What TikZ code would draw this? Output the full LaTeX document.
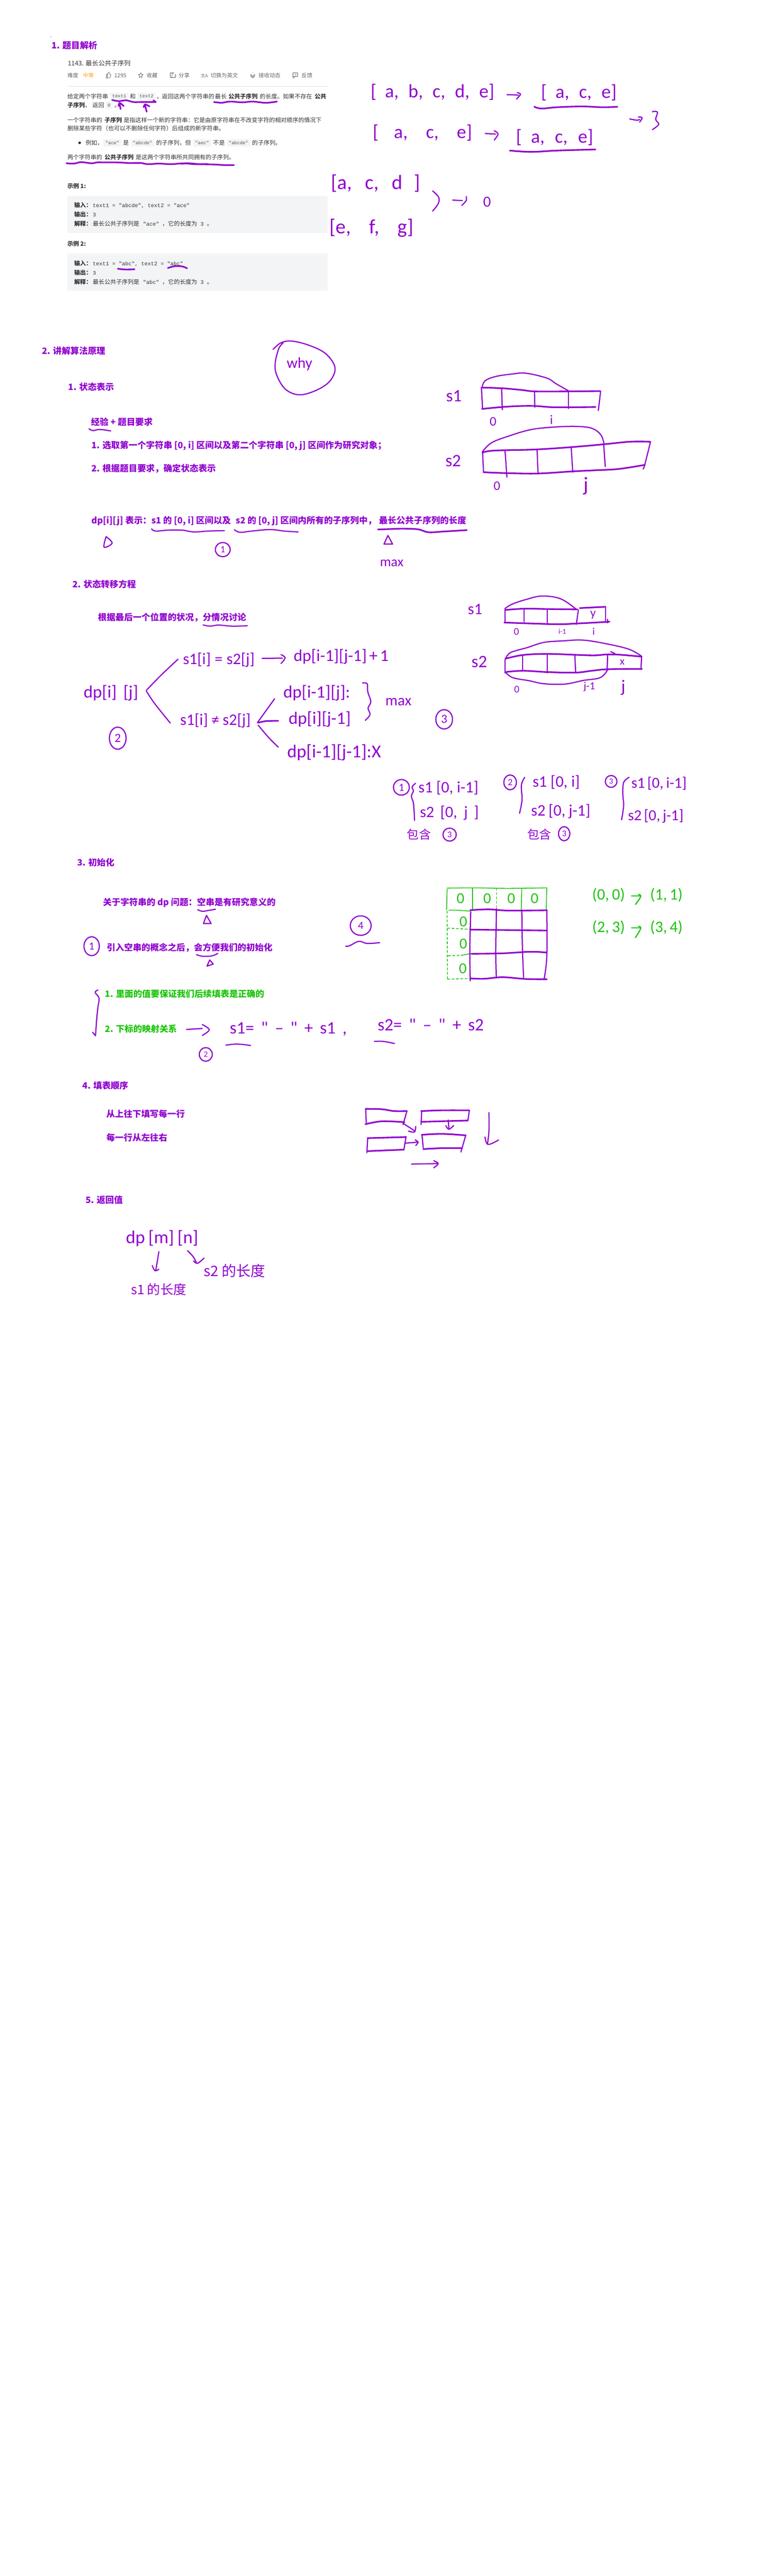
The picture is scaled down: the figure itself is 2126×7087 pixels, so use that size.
\documentclass[tikz,border=0pt]{standalone}
\usepackage{fontspec}
\setmainfont{Noto Sans CJK SC}
\setmonofont{Liberation Mono}
\newfontfamily\hand{Carlito}
\definecolor{pur}{HTML}{9000CF}
\definecolor{grn}{HTML}{1EC40C}
\definecolor{bodyc}{HTML}{333333}
\definecolor{grayc}{HTML}{666666}
\definecolor{chipc}{HTML}{F3F4F5}
\definecolor{monoc}{HTML}{555555}
\definecolor{ornge}{HTML}{FFA116}
\colorlet{ink}{pur}
\tikzset{
 hd/.style={anchor=west,inner sep=0pt,font=\bfseries\fontsize{12}{14}\selectfont,text=pur,text height=10.5pt,text depth=1.5pt},
 hdg/.style={hd,text=grn},
 ttl/.style={anchor=west,inner sep=0pt,font=\fontsize{8.8}{11}\selectfont,text=bodyc,text height=7.7pt,text depth=1.1pt},
 bd/.style={anchor=west,inner sep=0pt,font=\fontsize{8}{10}\selectfont,text=bodyc,text height=7pt,text depth=1pt},
 bb/.style={bd,font=\bfseries\fontsize{8}{10}\selectfont},
 tb/.style={anchor=west,inner sep=0pt,font=\fontsize{7.5}{10}\selectfont,text=grayc,text height=6.6pt,text depth=.9pt},
 mn/.style={anchor=west,inner sep=0pt,font=\ttfamily\fontsize{7.4}{10}\selectfont,text=bodyc,text height=7pt,text depth=1pt},
 chip/.style={inner sep=0pt,fill=chipc,rounded corners=1.5pt,minimum height=10.5pt,font=\ttfamily\fontsize{6.4}{8}\selectfont,text=monoc},
 pk/.style={draw=ink,line width=2.2pt,line cap=round,line join=round},
 pm/.style={draw=ink,line width=1.6pt,line cap=round,line join=round},
 pf/.style={draw=ink,line width=1.1pt,line cap=round,line join=round},
 ic/.style={draw=grayc,line width=.55pt,line join=round,line cap=round},
 hwa/.style={anchor=base west,inner sep=0pt,text=ink},
 hwb/.style={anchor=center,inner sep=0pt,text=ink},
}
\newcommand\strk[1]{\draw[pk] plot[smooth,tension=.6] coordinates {#1};}
\newcommand\med[1]{\draw[pm] plot[smooth,tension=.6] coordinates {#1};}
\newcommand\thn[1]{\draw[pf] plot[smooth,tension=.6] coordinates {#1};}
\newcommand\hwt[5]{\node[hwa,font=\hand\fontsize{#3}{#3}\selectfont] (#1) at (#2) {\hbox to \dimexpr#4pt/2\relax{#5}};}
\newcommand\hwc[4]{\node[hwb,font=\hand\fontsize{#3}{#3}\selectfont] (#1) at (#2) {#4};}
\newcommand\hcj[4]{\node[hwa,font=\fontsize{#3}{#3}\selectfont] (#1) at (#2) {#4};}
\newcommand\mk[6]{\draw[pm] (#2) ellipse [x radius=#3,y radius=#4]; \hwc{#1}{#2}{#5}{#6}}
\begin{document}
\begin{tikzpicture}[x=0.5pt,y=-0.5pt]
\useasboundingbox (0,0) rectangle (2126,7087);
\fill[white] (0,0) rectangle (2126,7087);
% ------- typed text, top block
\fill[pur!35] (140,101) circle [radius=2];
\node[hd] (sec1) at (141,125) {1. 题目解析};
\node[ttl] (title) at (186,174) {1143. 最长公共子序列};
\node[tb] (nd) at (185,207) {难度};
\node[tb,text=ornge] (zd) at (228,207) {中等};
\node[tb] (likes) at (314,207) {1295};
\node[tb] (sc) at (403,207) {收藏};
\node[tb] (fx) at (491,207) {分享};
\node[tb] (qh) at (579,207) {切换为英文};
\node[tb] (js) at (711,207) {接收动态};
\node[tb] (fk) at (829,207) {反馈};
\draw[ic] (292,204) rectangle (295,214);
\draw[ic] (295,204)--(299,199)--(301,200)--(300.5,204)--(305,204)--(303,214)--(295,214);
\draw[ic] (387,200)--(389,204.5)--(393.5,205)--(390,208.5)--(391,213.5)--(387,211)--(383,213.5)--(384,208.5)--(380.5,205)--(385,204.5)--cycle;
\draw[ic] (478,200)--(468,200)--(468,213)--(482,213)--(482,204);
\draw[ic] (473,213)--(473,204)--(478,200);
\node[inner sep=0pt,font=\fontsize{6}{6}\selectfont,text=grayc] (tr) at (562,208) {文A};
\draw[ic] (695,199)--(695,200) (690,211)--(690,204) arc (180:0:5)--(700,211)--cycle (692.5,213.5)--(697.5,213.5);
\draw[ic] (806,200) rectangle (819,211);
\draw[ic] (806,211)--(806,215)--(811,211) (812.5,203)--(812.5,206.5) (812.5,208)--(812.5,209);
\draw[draw=black!12,line width=.5pt] (185,237)--(901,237);

\node[bd] (p1a) at (185,265) {给定两个字符串};
\node[chip,minimum width=25pt] (c1) at (328,265) {text1};
\node[bd] (p1b) at (357,265) {和};
\node[chip,minimum width=25pt] (c2) at (403,265) {text2};
\node[bd] (p1c) at (430,265) {，};
\node[bd] (p1d) at (445,265) {返回这两个字符串的};
\node[bd] (p1e) at (591,265) {最长};
\node[bb] (p1f) at (628,265) {公共子序列};
\node[bd] (p1g) at (714,265) {的长度。};
\node[bd] (p1h) at (778,265) {如果不存在};
\node[bb] (p1i) at (865,265) {公共};
\node[bb] (p2a) at (185,290) {子序列};
\node[bd] (p2b) at (233,290) {，};
\node[bd] (p2c) at (254,290) {返回};
\node[chip,minimum width=9pt] (c0) at (300,290) {0};
\node[bd] (p2d) at (314,290) {。};
\node[bd] (p3a) at (185,330) {一个字符串的};
\node[bb] (p3b) at (287,330) {子序列};
\node[bd] (p3c) at (340,330) {是指这样一个新的字符串：它是由原字符串在不改变字符的相对顺序的情况下};
\node[bd] (p4) at (185,353) {删除某些字符（也可以不删除任何字符）后组成的新字符串。};
\fill[black!85] (219,393) circle [radius=3.5];
\node[bd] (p5a) at (235,393) {例如，};
\node[chip,minimum width=25pt] (c3) at (309,393) {"ace"};
\node[bd] (p5b) at (338,393) {是};
\node[chip,minimum width=32pt] (c4) at (392,393) {"abcde"};
\node[bd] (p5c) at (429,393) {的子序列，但};
\node[chip,minimum width=25pt] (c5) at (556,393) {"aec"};
\node[bd] (p5d) at (586,393) {不是};
\node[chip,minimum width=32pt] (c6) at (656,393) {"abcde"};
\node[bd] (p5e) at (693,393) {的子序列。};
\node[bd] (p6a) at (185,433) {两个字符串的};
\node[bb] (p6b) at (287,433) {公共子序列};
\node[bd] (p6c) at (373,433) {是这两个字符串所共同拥有的子序列。};

\node[bb] (ex1) at (185,512) {示例 1:};
\fill[chipc,rounded corners=1.5pt] (185,539) rectangle (901,641);
\node[bb] (e1a) at (204,565) {输入：};
\node[mn] (e1b) at (255,565) {text1 = "abcde", text2 = "ace"};
\node[bb] (e1c) at (204,590) {输出：};
\node[mn] (e1d) at (255,590) {3};
\node[bb] (e1e) at (204,616) {解释：};
\node[bd] (e1f) at (255,616) {最长公共子序列是};
\node[mn] (e1g) at (393,616) {"ace"};
\node[bd] (e1h) at (446,616) {，它的长度为};
\node[mn] (e1i) at (551,616) {3};
\node[bd] (e1j) at (569,616) {。};
\node[bb] (ex2) at (185,671) {示例 2:};
\fill[chipc,rounded corners=1.5pt] (185,697.5) rectangle (901,799.5);
\node[bb] (e2a) at (204,724) {输入：};
\node[mn] (e2b) at (255,724) {text1 = "abc", text2 = "abc"};
\node[bb] (e2c) at (204,749.5) {输出：};
\node[mn] (e2d) at (255,749.5) {3};
\node[bb] (e2e) at (204,775) {解释：};
\node[bd] (e2f) at (255,775) {最长公共子序列是};
\node[mn] (e2g) at (393,775) {"abc"};
\node[bd] (e2h) at (446,775) {，它的长度为};
\node[mn] (e2i) at (551,775) {3};
\node[bd] (e2j) at (569,775) {。};

% ------- purple headings
\node[hd] (sec2) at (115,966) {2. 讲解算法原理};
\node[hd] (s21) at (187,1065) {1. 状态表示};
\node[hd] (s21a) at (250,1161) {经验 + 题目要求};
\node[hd] (s21b) at (251,1225) {1. 选取第一个字符串 [0, i] 区间以及第二个字符串 [0, j] 区间作为研究对象；};
\node[hd] (s21c) at (251,1289) {2. 根据题目要求，确定状态表示};
\node[hd] (s21d) at (251,1432) {dp[i][j] 表示：};
\node[hd] (s21e) at (416,1432) {s1 的 [0, i] 区间以及};
\node[hd] (s21f) at (648,1432) {s2 的 [0, j] 区间内所有的子序列中，};
\node[hd] (s21g) at (1042,1432) {最长公共子序列的长度};
\node[hd] (s22) at (199,1608) {2. 状态转移方程};
\node[hd] (s22a) at (269,1698) {根据最后一个位置的状况，分情况讨论};
\node[hd] (s23) at (212,2373) {3. 初始化};
\node[hd] (s23a) at (283,2482) {关于字符串的 dp 问题：空串是有研究意义的};
\node[hd] (s23b) at (293,2607) {引入空串的概念之后，会方便我们的初始化};
\node[hdg] (s23c) at (288,2735) {1. 里面的值要保证我们后续填表是正确的};
\node[hdg] (s23d) at (288,2831) {2. 下标的映射关系};
\node[hd] (s24) at (226,2987) {4. 填表顺序};
\node[hd] (s24a) at (292,3065) {从上往下填写每一行};
\node[hd] (s24b) at (292,3130) {每一行从左往右};
\node[hd] (s25) at (235,3302) {5. 返回值};

% ------- ink on the statement
\begin{scope}[shift={(120,250)},x=.1667pt,y=-.1667pt]
\strk{(565,75) (620,85) (680,78) (740,92) (800,92) (860,92) (925,92)}
\strk{(925,92) (905,78)}
\strk{(635,150) (625,100)} \strk{(618,125) (628,100) (660,125)}
\strk{(850,172) (835,112)} \strk{(825,135) (838,112) (873,128)}
\strk{(188,597) (250,600) (310,588) (395,598) (440,590) (500,590) (600,590) (700,595) (800,595) (860,605) (950,600) (1050,605) (1150,598) (1250,605) (1350,603)}
\end{scope}
\begin{scope}[shift={(500,250)},x=.1667pt,y=-.1667pt]
\strk{(0,603) (50,597) (150,605) (250,607) (350,612) (430,613)}
\strk{(265,92) (330,98) (400,88) (500,95) (580,88) (680,98) (740,95) (785,88)}
\end{scope}
\begin{scope}[shift={(80,60)},x=.287pt,y=-.255pt]
\strk{(425,1332) (460,1336) (505,1335)}
\strk{(665,1328) (700,1318) (735,1320) (757,1330)}
\end{scope}

% ------- arrays of letters, top right
\begin{scope}[shift={(900,150)},x=.3507pt,y=-.2232pt]
\hwt{ha}{170,265}{26}{340}{[ a, b, c, d, e]}
\med{(705,247) (750,250)} \med{(745,235) (758,245) (742,275)}
\hwt{hb}{838,270}{26}{208}{[ a, c, e]}
\strk{(812,322) (840,333) (900,325) (1000,320) (1080,325) (1138,322)}
\hwt{hc}{178,515}{26}{273}{[ a, c, e]}
\med{(620,487) (660,490)} \med{(655,470) (670,490) (655,527)}
\hwt{hd1}{740,545}{26}{212}{[ a, c, e]}
\strk{(716,592) (800,600) (900,592) (1052,585)}
\med{(1186,397) (1215,405) (1225,400)} \med{(1220,385) (1235,390) (1225,417)}
\med{(1275,352) (1295,355) (1288,400) (1300,430) (1275,463)}
\hwt{he}{15,830}{28}{245}{[a, c, d ]}
\med{(413,840) (437,880) (435,920) (413,965)}
\med{(492,897) (530,900)} \med{(545,875) (545,900) (528,930)}
\hwc{hf}{627,910}{21}{0}
\hwt{hg}{8,1105}{28}{231}{[e, f, g]}
\end{scope}

% ------- why / underlines in section 2.1
\begin{scope}[shift={(80,900)},x=.319pt,y=-.255pt]
\med{(1052,120) (1085,85) (1130,75) (1200,95) (1270,135) (1310,190) (1318,240) (1290,300) (1230,345) (1165,365) (1110,340) (1075,280) (1060,210) (1075,120) (1095,85)}
\hwt{why}{1110,220}{21}{65}{why}
\med{(258,548) (275,558) (305,552) (352,560)}
\med{(528,1088) (545,1100) (600,1095) (660,1095) (710,1105) (770,1100) (842,1098)}
\med{(885,1093) (910,1107) (960,1100) (1040,1092) (1100,1100) (1160,1105)}
\med{(332,1130) (358,1165) (323,1187) (332,1130)}
\mk{m1}{835,1200}{32}{38}{13}{1}
\end{scope}
\begin{scope}[shift={(1000,1000)},x=.319pt,y=-.2232pt]
\strk{(62,1023) (120,1020) (170,1018) (235,1022) (280,1040) (350,1035) (445,1027)}
\draw[pm] (105,1060)--(125,1113)--(88,1113)--cycle;
\hwt{mx1}{70,1250}{19}{74}{max}
% s1 array
\hwt{ls1}{355,235}{24}{40}{s1}
\strk{(508,148) (600,153) (680,163) (740,172) (880,172) (1020,170)}
\strk{(510,280) (600,268) (680,262) (740,262) (830,270) (1000,268)}
\med{(508,148) (513,280)} \med{(1022,170) (1012,290)}
\med{(595,155) (598,285)} \med{(737,172) (738,270)} \med{(883,170) (883,278)}
\med{(512,140) (525,105) (570,80) (640,65) (700,60) (790,90) (830,125) (883,168)}
\hwc{z1}{558,357}{18}{0} \hwc{z2}{810,347}{18}{i}
% s2 array
\hwt{ls2}{352,635}{24}{44}{s2}
\strk{(513,550) (560,537) (740,530) (900,515) (1035,498) (1150,482) (1235,482)}
\med{(1237,482) (1212,625) (1205,650)}
\strk{(517,670) (600,675) (750,678) (900,665) (1000,658) (1100,650) (1212,625)}
\med{(513,545) (517,670)}
\med{(610,540) (618,700)} \med{(748,530) (752,680)} \med{(895,520) (902,670)} \med{(1035,498) (1042,635)}
\med{(512,545) (550,490) (620,450) (720,408) (820,392) (920,388) (985,400) (1023,440) (1037,498)}
\hwc{z3}{575,755}{18}{0} \hwc{z4}{960,755}{28}{j}
\end{scope}

% ------- section 2.2 tree
\begin{scope}[shift={(180,1600)},x=.3825pt,y=-.2232pt]
\med{(495,267) (520,275) (550,268) (600,275) (654,272)}
\hwt{t1}{65,715}{24}{150}{dp[i] [j]}
\med{(405,478) (345,575) (292,668)}
\med{(290,672) (320,750) (377,872)}
\hwt{t2}{422,510}{22}{197}{s1[i] = s2[j]}
\med{(707,473) (780,472)} \med{(775,450) (790,470) (775,505)}
\hwt{t3}{820,490}{23}{254}{dp[i-1][j-1] + 1}
\hwt{t4}{412,885}{22}{194}{s1[i] ≠ s2[j]}
\med{(752,722) (690,870)}
\strk{(765,858) (720,860) (693,870)}
\med{(693,885) (730,960) (765,1020)}
\hwt{t5}{783,715}{24}{183}{dp[i-1][j]:}
\hwt{t6}{802,880}{24}{180}{dp[i][j-1]}
\hwt{t7}{797,1085}{25}{249}{dp[i-1][j-1]:X}
\med{(1068,625) (1085,630) (1087,680) (1098,740) (1088,780) (1095,820) (1078,855)}
\hwt{mx2}{1150,765}{21}{84}{max}
\mk{m2}{188,965}{30}{68}{17}{2}
\end{scope}

% ------- section 2.2 arrays and cases
\begin{scope}[shift={(1100,1650)},x=.287pt,y=-.255pt]
\hwt{ls3}{325,78}{22}{30}{s1}
\strk{(503,55) (600,48) (700,50) (850,52)} \strk{(862,45) (985,38)}
\med{(985,38) (985,120)}
\strk{(500,123) (630,128) (760,132) (850,128) (985,120) (1003,118)}
\med{(503,60) (503,120)} \med{(595,50) (595,118)} \med{(706,50) (706,125)} \med{(855,55) (845,133)}
\med{(995,105) (995,125)}
\med{(503,48) (535,25) (600,0) (680,-20) (770,-5) (843,50)}
\hwc{y1}{925,82}{17}{y}
\hwc{z5}{558,172}{14}{0} \hwc{z6}{778,172}{10}{i-1} \hwc{z7}{928,172}{14}{i}
\hwt{ls4}{342,365}{24}{42}{s2}
\strk{(505,318) (590,298) (705,292) (840,297) (930,300) (995,295) (1060,297) (1158,307)}
\med{(1158,307) (1155,375)}
\strk{(505,390) (590,383) (705,390) (840,393) (920,383) (995,375) (1160,373)}
\med{(503,323) (503,395)} \med{(587,300) (587,385)} \med{(706,290) (706,395)} \med{(838,300) (842,388)} \med{(995,295) (993,378)}
\med{(507,317) (530,285) (610,258) (690,230) (780,222) (880,218) (1000,240) (1100,268) (1158,305)}
\med{(505,390) (540,420) (620,437) (690,453) (790,455) (880,435) (960,420) (995,378)}
\med{(1010,280) (1030,290)}
\hwc{x1}{1065,337}{15}{x}
\hwc{z8}{560,483}{14}{0} \hwc{z9}{908,470}{15}{j-1} \hwc{z10}{1070,475}{24}{j}
\mk{m3}{212,645}{40}{52}{17}{3}
% cases
\mk{m4}{7,1012}{38}{42}{15}{1}
\med{(75,990) (58,1010) (65,1030) (55,1060) (65,1100) (70,1190)}
\hwt{c11}{88,1040}{22}{165}{s1 [0, i-1]}
\hwt{c12}{95,1175}{22}{162}{s2 [0, j ]}
\hcj{c13}{33,1290}{16.5}{包含}
\mk{m5}{238,1267}{32}{35}{12}{3}
\mk{m6}{528,985}{30}{40}{13}{2}
\med{(598,958) (582,1000) (585,1080) (573,1152)}
\hwt{c21}{635,1010}{22}{130}{s1 [0, i]}
\hwt{c22}{628,1165}{22}{163}{s2 [0, j-1]}
\hcj{c23}{610,1290}{16.5}{包含}
\mk{m7}{787,1262}{27}{38}{12}{3}
\mk{m8}{1012,980}{28}{32}{11}{3}
\med{(1098,958) (1072,985) (1068,1050) (1072,1110) (1062,1187)}
\hwt{c31}{1108,1015}{21}{145}{s1 [0, i-1]}
\hwt{c32}{1092,1190}{21}{151}{s2 [0, j-1]}
\end{scope}

% ------- section 2.3
\begin{scope}[shift={(180,2400)},x=.319pt,y=-.2232pt]
\med{(570,230) (590,240) (615,235) (647,227)}
\draw[pm] (608,265)--(628,315)--(595,315)--cycle;
\mk{m9}{113,455}{33}{58}{15}{1}
\med{(565,507) (590,517) (630,515) (657,500)}
\draw[pm] (622,540)--(637,565)--(610,578)--cycle;
\mk{m10}{1273,328}{45}{60}{15}{4}
\med{(1208,455) (1225,452) (1265,425) (1300,438) (1355,433)}
\med{(140,725) (128,740) (145,775) (140,830) (135,900) (130,1000)}
\med{(117,985) (130,1008)}
\med{(522,968) (590,962)} \med{(590,938) (620,970) (590,1005)}
\hwt{map1}{708,995}{24}{322}{s1= " – " + s1 ,}
\med{(692,1065) (740,1058) (798,1067)}
\mk{m11}{605,1122}{28}{42}{11}{2}
\end{scope}
\begin{scope}[shift={(1000,2480)},x=.319pt,y=-.1667pt]
\hwt{map2}{60,1065}{24}{292}{s2= " – " + s2}
\med{(47,1155) (85,1155) (133,1172)}
\begin{scope}
\colorlet{ink}{grn}
\thn{(360,-100) (358,70)} \draw[pf,dashed] (360,80)--(362,640);
\thn{(368,73) (400,72) (460,80)}
\draw[pf,dashed] (362,220)--(460,230);
\draw[pf,dashed] (365,448)--(420,445); \thn{(420,445) (465,430)}
\draw[pf,dashed] (362,642)--(460,635);
\thn{(360,-110) (480,-112) (620,-108) (790,-112)}
\thn{(470,-110) (470,70)} \draw[pf,dashed] (573,-110)--(573,65);
\thn{(682,-110) (680,80)} \thn{(790,-110) (787,70)}
\hwc{g1}{418,-25}{21}{0} \hwc{g2}{533,-25}{21}{0} \hwc{g3}{637,-25}{21}{0} \hwc{g4}{737,-25}{21}{0}
\hwc{g5}{430,165}{21}{0} \hwc{g6}{430,348}{21}{0} \hwc{g7}{428,553}{21}{0}
\hwt{g8}{985,255}{22}{90}{(2, 3)}
\med{(1155,218) (1195,218)} \med{(1185,205) (1195,222) (1172,298)}
\hwt{g9}{1235,255}{22}{85}{(3, 4)}
\hwt{g10}{985,-15}{22}{90}{(0, 0)}
\med{(1155,-45) (1195,-45)} \med{(1185,-58) (1195,-41) (1172,25)}
\hwt{g11}{1235,-15}{22}{80}{(1, 1)}
\end{scope}
\med{(462,85) (458,400) (460,655)} \med{(573,60) (570,400) (572,620)}
\med{(682,70) (685,400) (690,630)} \med{(790,70) (790,450) (778,645)}
\strk{(460,72) (540,65) (620,75) (790,73)}
\strk{(460,232) (570,235) (790,240)}
\strk{(465,432) (600,428) (720,415) (790,422)}
\strk{(462,635) (520,638) (600,625) (700,640) (790,642)}
\end{scope}

% ------- section 2.4 / 2.5
\begin{scope}[shift={(180,3020)},x=.4145pt,y=-.255pt]
\strk{(996,60) (1050,62) (1090,72) (1133,72)} \med{(1133,72) (1120,145)}
\strk{(995,143) (1050,127) (1125,132)} \med{(996,60) (998,135)}
\med{(1120,138) (1160,180)} \med{(1138,180) (1158,185) (1162,155)}
\strk{(1180,72) (1250,68) (1340,68)} \med{(1340,70) (1335,125)}
\strk{(1180,130) (1333,123)} \med{(1182,70) (1180,145)}
\med{(1270,120) (1272,165)} \med{(1262,150) (1272,170) (1288,150)}
\strk{(1003,218) (1130,212)} \med{(1130,210) (1123,280)}
\strk{(1003,288) (1123,280)} \med{(1003,215) (1000,297)}
\med{(1127,245) (1168,240)} \med{(1160,227) (1170,240) (1162,258)}
\strk{(1182,200) (1250,195) (1328,203)} \med{(1328,203) (1312,293)}
\strk{(1187,277) (1250,272) (1315,272)} \med{(1183,200) (1187,270)}
\med{(1405,80) (1405,180) (1400,250)} \med{(1392,212) (1402,252) (1437,228)}
\med{(1148,358) (1236,355)} \med{(1222,340) (1237,355) (1222,378)}
\hwt{r1}{200,785}{25}{199}{dp [m] [n]}
\med{(310,830) (300,930)} \med{(288,905) (297,933) (310,925)}
\med{(405,825) (425,860) (435,893)} \med{(425,880) (438,893) (460,865)}
\hcj{r2}{217,1060}{18}{s1 的长度}
\hcj{r3}{458,965}{20}{s2 的长度}
\end{scope}
\end{tikzpicture}
\end{document}
